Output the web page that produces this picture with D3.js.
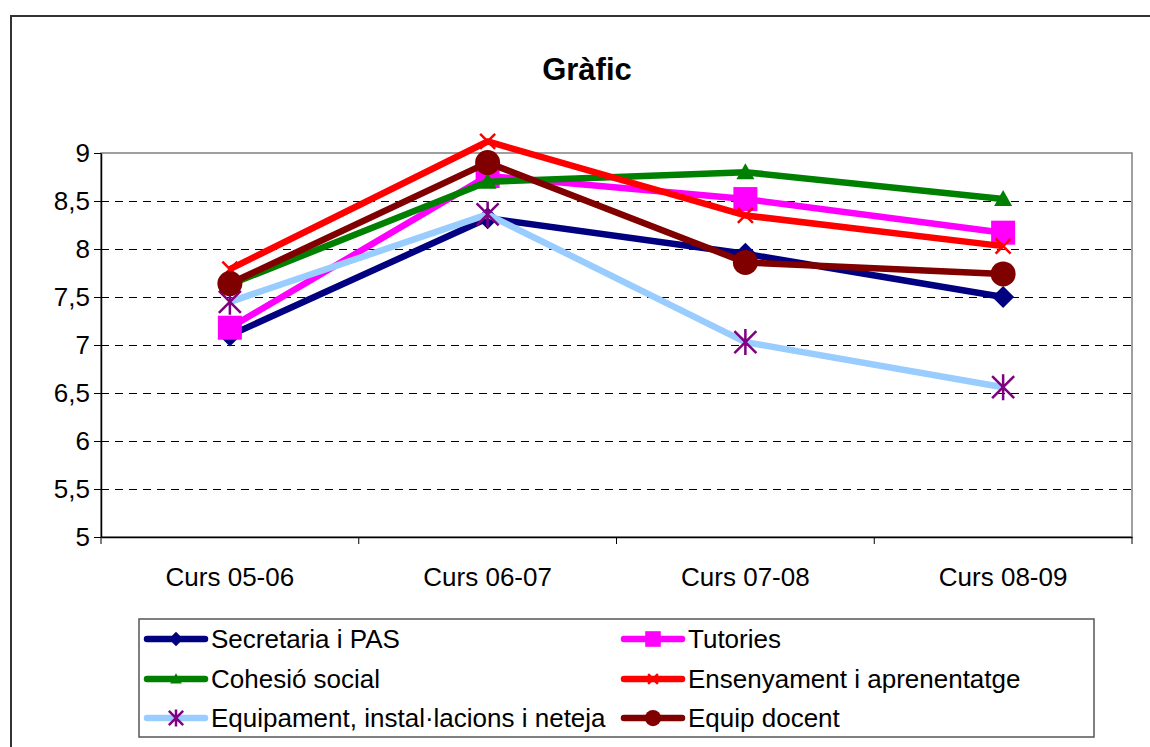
<!DOCTYPE html>
<html>
<head>
<meta charset="utf-8">
<script src="https://cdn.jsdelivr.net/npm/d3@7"></script>
<style>
  body { margin: 0; background: #fff; }
  text { font-family: "Liberation Sans", Arial, sans-serif; }
</style>
</head>
<body>
<script>
    // categories + series
    const courses = ["Curs 05-06", "Curs 06-07", "Curs 07-08", "Curs 08-09"];
    const yTicks = [5, 5.5, 6, 6.5, 7, 7.5, 8, 8.5, 9];

    const secretaria = [7.10, 8.32, 7.95, 7.50];
    const tutories = [7.18, 8.76, 8.52, 8.17];
    const cohesio = [7.63, 8.70, 8.80, 8.52];
    const ensenyament = [7.79, 9.12, 8.35, 8.03];
    const equipament = [7.45, 8.36, 7.03, 6.56];
    const equipDocent = [7.64, 8.90, 7.86, 7.74];

    const series = [
        {name: "Secretaria i PAS", values: secretaria, color: '#000080', marker: 'diamond', mcolor: '#000080'},
        {name: "Tutories", values: tutories, color: '#ff00ff', marker: 'square', mcolor: '#ff00ff'},
        {name: "Cohesió social", values: cohesio, color: '#008000', marker: 'triangle', mcolor: '#008000'},
        {name: "Ensenyament i aprenentatge", values: ensenyament, color: '#ff0000', marker: 'x', mcolor: '#ff0000'},
        {name: "Equipament, instal·lacions i neteja", values: equipament, color: '#99ccff', marker: 'star', mcolor: '#800080'},
        {name: "Equip docent", values: equipDocent, color: '#800000', marker: 'circle', mcolor: '#800000'}
    ];

    const width = 1150, height = 747;
    const plot = {left: 101, right: 1132, top: 153, bottom: 537};

    const svg = d3.select('body').append('svg')
        .attr('width', width)
        .attr('height', height);

    // outer chart frame (runs off the right/bottom edge)
    svg.append('rect')
        .attr('x', 11).attr('y', 16)
        .attr('width', 1300).attr('height', 900)
        .attr('fill', 'none')
        .attr('stroke', '#333')
        .attr('stroke-width', 2);

    // title
    svg.append('text')
        .attr('x', 587).attr('y', 80)
        .attr('text-anchor', 'middle')
        .attr('font-size', '31px')
        .attr('font-weight', 'bold')
        .text('Gràfic');

    // scales
    const xScale = d3.scaleBand()
        .domain(courses)
        .range([plot.left, plot.right]);

    const yScale = d3.scaleLinear()
        .domain([5, 9])
        .range([plot.bottom, plot.top]);

    const cx = d => xScale(d) + xScale.bandwidth() / 2;

    // dashed gridlines
    svg.append('g')
        .selectAll('line')
        .data(yTicks.filter(t => t > 5 && t < 9))
        .enter()
        .append('line')
            .attr('x1', plot.left).attr('x2', plot.right)
            .attr('y1', d => yScale(d) + 0.5).attr('y2', d => yScale(d) + 0.5)
            .attr('stroke', '#000')
            .attr('stroke-width', 1)
            .attr('stroke-dasharray', '8,6');

    // plot border
    svg.append('rect')
        .attr('x', plot.left).attr('y', plot.top)
        .attr('width', plot.right - plot.left)
        .attr('height', plot.bottom - plot.top)
        .attr('fill', 'none')
        .attr('stroke', '#808080')
        .attr('stroke-width', 1.5);

    // axes
    const yAxis = d3.axisLeft(yScale)
        .tickValues(yTicks)
        .tickFormat(d => String(d).replace('.', ','))
        .tickSize(7)
        .tickPadding(4)
        .tickSizeOuter(0);

    const yAxisGroup = svg.append('g')
        .attr('class', 'axis y-axis')
        .attr('transform', `translate(${plot.left}, 0)`)
        .call(yAxis);

    const xAxis = d3.axisBottom(xScale)
        .tickSize(0)
        .tickPadding(31)
        .tickSizeOuter(0);

    const xAxisGroup = svg.append('g')
        .attr('class', 'axis x-axis')
        .attr('transform', `translate(0, ${plot.bottom})`)
        .call(xAxis);

    // tick marks between categories
    const edges = courses.map(c => xScale(c)).concat([plot.right]);
    xAxisGroup.selectAll('.edge')
        .data(edges)
        .enter()
        .append('line')
            .attr('class', 'edge')
            .attr('x1', d => d).attr('x2', d => d)
            .attr('y1', 0).attr('y2', 7)
            .attr('stroke', '#000');

    svg.selectAll('.axis path.domain')
        .attr('stroke', '#000')
        .attr('stroke-width', 1.5);
    svg.selectAll('.axis text')
        .attr('font-size', '26px')
        .attr('font-family', '"Liberation Sans", Arial, sans-serif')
        .attr('fill', '#000');

    // marker drawing
    function drawMarker(g, type, color, s) {
        if (type === 'diamond') {
            g.append('path')
                .attr('d', `M0,${-11 * s}L${11 * s},0L0,${11 * s}L${-11 * s},0Z`)
                .attr('fill', color);
        } else if (type === 'square') {
            g.append('rect')
                .attr('x', -12 * s).attr('y', -12 * s)
                .attr('width', 24 * s).attr('height', 24 * s)
                .attr('fill', color);
        } else if (type === 'triangle') {
            g.append('path')
                .attr('d', `M0,${-9 * s}L${9 * s},${7 * s}L${-9 * s},${7 * s}Z`)
                .attr('fill', color);
        } else if (type === 'circle') {
            g.append('circle')
                .attr('r', 12.5 * s)
                .attr('fill', color);
        } else if (type === 'x') {
            const r = 7.5 * s;
            g.append('path')
                .attr('d', `M${-r},${-r}L${r},${r}M${-r},${r}L${r},${-r}`)
                .attr('stroke', color)
                .attr('stroke-width', 2.5)
                .attr('fill', 'none');
        } else if (type === 'star') {
            const r = 13 * s, q = 11 * s;
            g.append('path')
                .attr('d', `M0,${-r}L0,${r}M${-q},${-q}L${q},${q}M${-q},${q}L${q},${-q}`)
                .attr('stroke', color)
                .attr('stroke-width', 2.5)
                .attr('fill', 'none');
        }
    }

    const line = d3.line()
        .x((d, i) => cx(courses[i]))
        .y(d => yScale(d));

    // add series, each line followed by its markers
    series.forEach(s => {
        const g = svg.append('g').attr('class', 'series');
        g.append('path')
            .attr('d', line(s.values))
            .attr('fill', 'none')
            .attr('stroke', s.color)
            .attr('stroke-width', 6.5)
            .attr('stroke-linejoin', 'round');
        s.values.forEach((v, i) => {
            const m = g.append('g')
                .attr('transform', `translate(${cx(courses[i])}, ${yScale(v)})`);
            drawMarker(m, s.marker, s.mcolor, 1);
        });
    });

    // legend
    const legend = svg.append('g').attr('class', 'legend');
    legend.append('rect')
        .attr('x', 139).attr('y', 619)
        .attr('width', 955).attr('height', 118)
        .attr('fill', '#fff')
        .attr('stroke', '#555')
        .attr('stroke-width', 1.5);

    const colX = [145, 622];
    const rowY = [639, 679, 718];
    series.forEach((s, i) => {
        const lx = colX[i % 2], ly = rowY[Math.floor(i / 2)];
        const item = legend.append('g')
            .attr('transform', `translate(${lx}, ${ly})`);
        item.append('line')
            .attr('x1', 2).attr('x2', 60)
            .attr('stroke', s.color)
            .attr('stroke-width', 6.5)
            .attr('stroke-linecap', 'round');
        drawMarker(item.append('g').attr('transform', 'translate(31, 0)'), s.marker, s.mcolor, 0.65);
        item.append('text')
            .attr('x', 66).attr('y', 0)
            .attr('dy', '0.35em')
            .attr('font-size', '26px')
            .text(s.name);
    });
</script>
</body>
</html>
